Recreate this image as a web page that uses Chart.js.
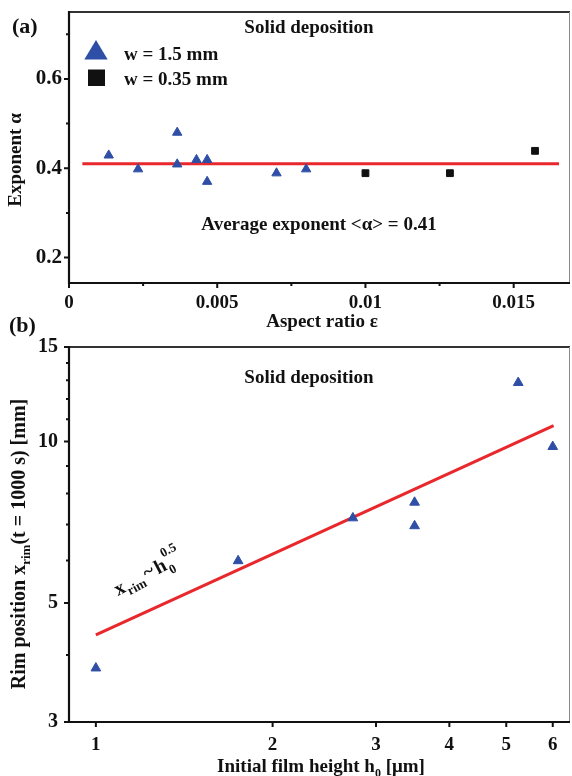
<!DOCTYPE html>
<html><head><meta charset="utf-8">
<script src="https://cdn.jsdelivr.net/npm/chart.js@4"></script>
<style>
html,body{margin:0;padding:0;background:#fff;width:572px;height:776px;overflow:hidden;}
canvas{position:absolute;left:0;}
#ca{top:0;} #cb{top:300px;}
</style></head><body>
<canvas id="ca" width="572" height="335"></canvas>
<canvas id="cb" width="572" height="476"></canvas>
<script>
// ---------- Panel (a) data ----------
const aTriX = [0.00134, 0.00233, 0.00365, 0.00365, 0.0043, 0.00466, 0.00466, 0.0070, 0.0080];
const aTriY = [0.429, 0.398, 0.480, 0.409, 0.419, 0.419, 0.370, 0.389, 0.398];
const aSqX = [0.0100, 0.01285, 0.01572];
const aSqY = [0.389, 0.389, 0.439];
const aFitX = [0.00045, 0.01653];
const aFitY = [0.41, 0.41];
const aXTicks = [0, 0.005, 0.01, 0.015];
const aXTickLabels = ['0', '0.005', '0.01', '0.015'];
const aXMinor = [0.0025, 0.0075, 0.0125];
const aYTicks = [0.2, 0.4, 0.6];
const aYTickLabels = ['0.2', '0.4', '0.6'];
const aYMinor = [0.3, 0.5, 0.7];

// ---------- Panel (b) data ----------
const bTriX = [1.0, 1.747, 2.74, 3.49, 3.49, 5.24, 6.0];
const bTriY = [3.78, 5.99, 7.20, 7.70, 6.96, 12.87, 9.78];
const bFitX = [1.0, 6.02];
const bFitY = [4.36, 10.70];
const bXTicks = [1, 2, 3, 4, 5, 6];
const bXTickLabels = ['1', '2', '3', '4', '5', '6'];
const bYTicks = [3, 5, 10, 15];
const bYTickLabels = ['3', '5', '10', '15'];
const bYMinor = [4, 6, 7, 8, 9, 11, 12, 13, 14];

const SERIF = "'Liberation Serif','Times New Roman',serif";
const BLUE = '#2f4fa6';
const RED = '#e8282c';
const INK = '#111';

function lab(ticks, labels, v) {
  for (let i = 0; i < ticks.length; i++) if (Math.abs(ticks[i] - v) < 1e-9) return labels[i];
  return '';
}
function pts(xs, ys) { return xs.map((x, i) => ({ x: x, y: ys[i] })); }
function noPad(s) { s.paddingLeft = 0; s.paddingRight = 0; s.paddingTop = 0; s.paddingBottom = 0; }
// pin the plot area's right edge so the x scale spans the same pixels as the reference frame
function fixRight(R) {
  return { id: 'fixRight', afterLayout(chart) {
    const a = chart.chartArea, x = chart.scales.x;
    a.right = R; a.width = R - a.left;
    x.right = R; x.width = R - x.left; x.configure();
  } };
}

function rich(ctx, parts, x, y, rot, align) {
  ctx.save();
  ctx.translate(x, y);
  ctx.rotate(rot || 0);
  ctx.fillStyle = INK;
  ctx.textBaseline = 'alphabetic';
  let w = 0;
  parts.forEach(p => { ctx.font = 'bold ' + p.s + 'px ' + SERIF; p.w = ctx.measureText(p.t).width; w += p.w; });
  let cx = align === 'left' ? 0 : -w / 2;
  parts.forEach(p => { ctx.font = 'bold ' + p.s + 'px ' + SERIF; ctx.fillText(p.t, cx, p.dy || 0); cx += p.w; });
  ctx.restore();
}

function frame(chart, xMaj, xMin, yMaj, yMin) {
  const ctx = chart.ctx, a = chart.chartArea, x = chart.scales.x, y = chart.scales.y;
  ctx.save();
  ctx.strokeStyle = INK; ctx.lineWidth = 2;
  ctx.beginPath();
  xMaj.forEach(v => { const p = x.getPixelForValue(v); ctx.moveTo(p, a.bottom); ctx.lineTo(p, a.bottom + 5); });
  xMin.forEach(v => { const p = x.getPixelForValue(v); ctx.moveTo(p, a.bottom); ctx.lineTo(p, a.bottom + 3); });
  yMaj.forEach(v => { const p = y.getPixelForValue(v); ctx.moveTo(a.left, p); ctx.lineTo(a.left - 5, p); });
  yMin.forEach(v => { const p = y.getPixelForValue(v); ctx.moveTo(a.left, p); ctx.lineTo(a.left - 3, p); });
  ctx.stroke();
  ctx.strokeStyle = '#333'; ctx.lineWidth = 2;
  ctx.beginPath(); ctx.moveTo(a.left, a.top); ctx.lineTo(a.right, a.top); ctx.stroke();
  ctx.strokeStyle = '#8a8a8a'; ctx.lineWidth = 1;
  ctx.beginPath(); ctx.moveTo(a.right - 0.5, a.top); ctx.lineTo(a.right - 0.5, a.bottom); ctx.stroke();
  ctx.strokeStyle = INK; ctx.lineWidth = 2.2;
  ctx.beginPath(); ctx.moveTo(a.left, a.top - 1); ctx.lineTo(a.left, a.bottom); ctx.lineTo(a.right, a.bottom); ctx.stroke();
  ctx.restore();
}

function tf(sz) { return { size: sz, weight: 'bold', family: SERIF }; }

// ---------- Chart (a) ----------
new Chart(document.getElementById('ca'), {
  type: 'scatter',
  data: {
    datasets: [
      { data: pts(aTriX, aTriY), pointStyle: 'triangle', pointRadius: 5.4, backgroundColor: BLUE, borderColor: BLUE, borderWidth: 1 },
      { data: pts(aSqX, aSqY), pointStyle: 'rect', pointRadius: 4.8, backgroundColor: INK, borderColor: INK, borderWidth: 1 },
      { data: pts(aFitX, aFitY), showLine: true, pointRadius: 0, borderColor: RED, borderWidth: 3, fill: false }
    ]
  },
  options: {
    responsive: false, animation: false, events: [],
    layout: { padding: { left: 0, top: 12, right: 2, bottom: 0 } },
    plugins: { legend: { display: false }, tooltip: { enabled: false } },
    scales: {
      x: {
        type: 'linear', min: 0, max: 0.0169,
        grid: { display: false, drawTicks: false }, border: { display: false },
        ticks: { padding: 9, color: INK, font: tf(19), maxRotation: 0, autoSkip: false,
          callback: v => lab(aXTicks, aXTickLabels, v) },
        afterBuildTicks: s => { s.ticks = aXTicks.map(v => ({ value: v })); },
        afterFit: s => { s.height = 52; noPad(s); }
      },
      y: {
        type: 'linear', min: 0.143, max: 0.75,
        grid: { display: false, drawTicks: false }, border: { display: false },
        ticks: { padding: 7, color: INK, font: tf(21), autoSkip: false,
          callback: v => lab(aYTicks, aYTickLabels, v) },
        afterBuildTicks: s => { s.ticks = aYTicks.map(v => ({ value: v })); },
        afterFit: s => { s.width = 69; noPad(s); }
      }
    }
  },
  plugins: [fixRight(570), {
    id: 'decoA',
    afterDraw(chart) {
      const ctx = chart.ctx;
      frame(chart, aXTicks, aXMinor, aYTicks, aYMinor);
      rich(ctx, [{ t: '(a)', s: 22 }], 12, 33, 0, 'left');
      rich(ctx, [{ t: 'Solid deposition', s: 19 }], 309, 33, 0);
      ctx.save();
      ctx.fillStyle = BLUE;
      ctx.beginPath(); ctx.moveTo(96, 40); ctx.lineTo(84.3, 59.5); ctx.lineTo(107.7, 59.5); ctx.closePath(); ctx.fill();
      ctx.fillStyle = INK;
      ctx.fillRect(88, 69.5, 17, 16.5);
      ctx.restore();
      rich(ctx, [{ t: 'w = 1.5 mm', s: 19 }], 124, 60, 0, 'left');
      rich(ctx, [{ t: 'w = 0.35 mm', s: 19 }], 124, 85, 0, 'left');
      rich(ctx, [{ t: 'Average exponent <\u03b1> = 0.41', s: 19 }], 319, 230, 0);
      rich(ctx, [{ t: 'Exponent \u03b1', s: 19 }], 21, 160, -Math.PI / 2);
      rich(ctx, [{ t: 'Aspect ratio \u03b5', s: 19 }], 322, 327, 0);
    }
  }]
});

// ---------- Chart (b) ----------
new Chart(document.getElementById('cb'), {
  type: 'scatter',
  data: {
    datasets: [
      { data: pts(bTriX, bTriY), pointStyle: 'triangle', pointRadius: 5.6, backgroundColor: BLUE, borderColor: BLUE, borderWidth: 1 },
      { data: pts(bFitX, bFitY), showLine: true, pointRadius: 0, borderColor: RED, borderWidth: 3, fill: false }
    ]
  },
  options: {
    responsive: false, animation: false, events: [],
    layout: { padding: { left: 0, top: 47, right: 2, bottom: 0 } },
    plugins: { legend: { display: false }, tooltip: { enabled: false } },
    scales: {
      x: {
        type: 'logarithmic', min: 0.9, max: 6.42,
        grid: { display: false, drawTicks: false }, border: { display: false },
        ticks: { padding: 12, color: INK, font: tf(19), maxRotation: 0, autoSkip: false,
          callback: v => lab(bXTicks, bXTickLabels, v) },
        afterBuildTicks: s => { s.ticks = bXTicks.map(v => ({ value: v })); },
        afterFit: s => { s.height = 54; noPad(s); }
      },
      y: {
        type: 'logarithmic', min: 3, max: 15,
        grid: { display: false, drawTicks: false }, border: { display: false },
        ticks: { padding: 11, color: INK, font: tf(20), autoSkip: false,
          callback: v => lab(bYTicks, bYTickLabels, v) },
        afterBuildTicks: s => { s.ticks = bYTicks.map(v => ({ value: v })); },
        afterFit: s => { s.width = 69; noPad(s); }
      }
    }
  },
  plugins: [fixRight(570), {
    id: 'decoB',
    afterDraw(chart) {
      const ctx = chart.ctx;
      const off = 300;
      frame(chart, bXTicks, [], bYTicks, bYMinor);
      rich(ctx, [{ t: '(b)', s: 22 }], 9, 332 - off, 0, 'left');
      rich(ctx, [{ t: 'Solid deposition', s: 19 }], 309, 383 - off, 0);
      rich(ctx, [{ t: 'Rim position x', s: 20 }, { t: 'rim', s: 13, dy: 5 }, { t: '(t = 1000 s) [mm]', s: 20 }], 25, 544 - off, -Math.PI / 2);
      rich(ctx, [{ t: 'Initial film height h', s: 19 }, { t: '0', s: 12, dy: 5 }, { t: ' [\u03bcm]', s: 19 }], 321, 772 - off, 0);
      ctx.save();
      ctx.translate(118, 596 - off);
      ctx.rotate(-28 * Math.PI / 180);
      ctx.fillStyle = INK;
      ctx.textBaseline = 'alphabetic';
      let cx = 0;
      ctx.font = 'bold 20px ' + SERIF; ctx.fillText('x', cx, 0); cx += ctx.measureText('x').width + 1;
      ctx.font = 'bold 13px ' + SERIF; ctx.fillText('rim', cx, 5); cx += ctx.measureText('rim').width + 2;
      ctx.font = 'bold 20px ' + SERIF; ctx.fillText('~', cx, -1); cx += ctx.measureText('~').width + 2;
      ctx.fillText('h', cx, 0); cx += ctx.measureText('h').width + 1;
      ctx.font = 'bold 13px ' + SERIF; ctx.fillText('0', cx, 6); ctx.fillText('0.5', cx, -13);
      ctx.restore();
    }
  }]
});
</script>
</body></html>
